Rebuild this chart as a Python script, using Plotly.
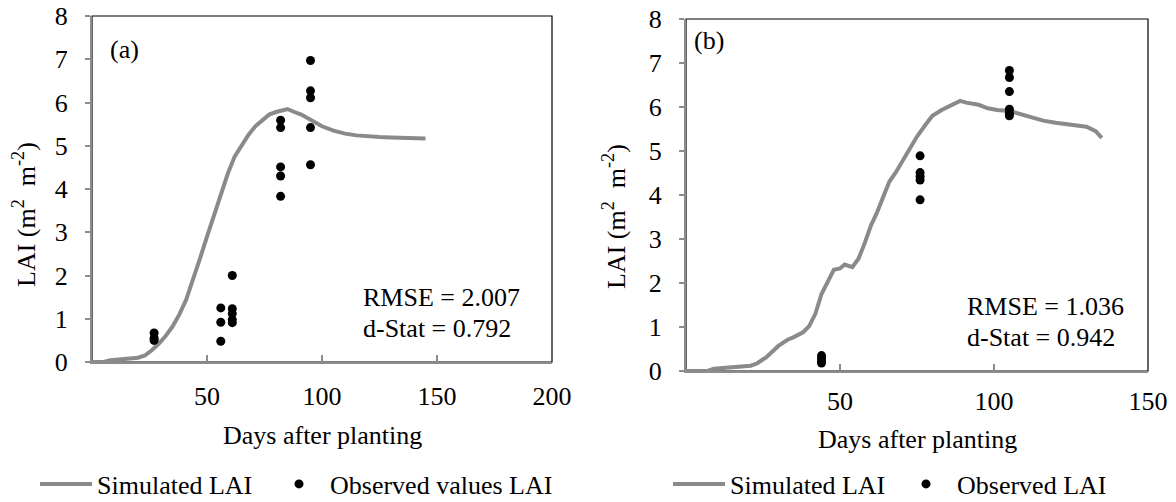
import plotly.graph_objects as go

# ---------------- data ----------------
# Panel (a)
a_sim_days = [0, 5, 8, 12, 16, 20, 23, 26, 29, 32, 35, 38, 41, 44, 47, 50, 53, 56, 59, 62,
              65, 68, 71, 74, 77, 80, 83, 85, 88, 91, 95, 100, 105, 110, 115, 120, 125, 130,
              135, 140, 145]
a_sim_lai = [0, 0, 0.04, 0.06, 0.08, 0.1, 0.15, 0.27, 0.42, 0.6, 0.82, 1.1, 1.45, 1.9, 2.4,
             2.9, 3.4, 3.9, 4.35, 4.75, 5.02, 5.25, 5.45, 5.6, 5.72, 5.78, 5.82, 5.85, 5.78,
             5.72, 5.6, 5.45, 5.35, 5.28, 5.24, 5.21, 5.2, 5.19, 5.18, 5.17, 5.17]
a_obs_days = [27, 27, 27, 56, 56, 56, 61, 61, 61, 61, 61, 82, 82, 82, 82, 82, 95, 95, 95, 95, 95]
a_obs_lai = [0.67, 0.55, 0.5, 1.25, 0.92, 0.48, 2.0, 1.23, 1.12, 0.98, 0.91,
             5.59, 5.42, 4.51, 4.30, 3.83, 6.97, 6.27, 6.11, 5.42, 4.56]

# Panel (b)
b_sim_days = [0, 7, 9, 13, 17, 21, 23, 26, 30, 33, 35, 38, 40, 42, 44, 46, 48, 50, 51.5, 54,
              56, 58, 60, 62, 64, 66, 68, 70, 72, 75, 78, 80, 83, 86, 89, 91, 93, 95, 98,
              101, 105, 110, 116, 120, 124, 130, 133, 135]
b_sim_lai = [0, 0, 0.05, 0.07, 0.09, 0.12, 0.17, 0.31, 0.57, 0.71, 0.77, 0.88, 1.02, 1.3, 1.75,
             2.05, 2.3, 2.33, 2.42, 2.36, 2.55, 2.9, 3.3, 3.6, 3.95, 4.3, 4.5, 4.75, 4.98, 5.33,
             5.62, 5.8, 5.93, 6.03, 6.14, 6.1, 6.08, 6.05, 5.97, 5.93, 5.91, 5.8, 5.69, 5.64,
             5.6, 5.55, 5.45, 5.3]
b_obs_days = [44, 44, 44, 44, 76, 76, 76, 76, 76, 105, 105, 105, 105, 105, 105]
b_obs_lai = [0.35, 0.28, 0.22, 0.18, 4.89, 4.51, 4.42, 4.34, 3.89, 6.83, 6.67, 6.35, 5.95, 5.86, 5.80]

a_xticks = [50, 100, 150, 200]
b_xticks = [50, 100, 150]
y_ticks = [0, 1, 2, 3, 4, 5, 6, 7, 8]

# ---------------- style ----------------
W, H = 1176, 502
FONT = "Liberation Serif"
FS = 26
GRAY = "#8a8a8a"
AXIS_GRAY = "#8c8c8c"


def px_x(p):
    return p / W


def px_y(p):
    return (H - p) / H


fig = go.Figure()

fig.add_trace(go.Scatter(x=a_sim_days, y=a_sim_lai, mode="lines", name="Simulated LAI",
                         line=dict(color=GRAY, width=4), xaxis="x", yaxis="y",
                         legend="legend", legendwidth=166))
fig.add_trace(go.Scatter(x=a_obs_days, y=a_obs_lai, mode="markers", name="Observed values LAI",
                         marker=dict(color="black", size=9), xaxis="x", yaxis="y",
                         legend="legend", cliponaxis=False))
fig.add_trace(go.Scatter(x=b_sim_days, y=b_sim_lai, mode="lines", name="Simulated LAI",
                         line=dict(color=GRAY, width=4), xaxis="x2", yaxis="y2",
                         legend="legend2", legendwidth=160))
fig.add_trace(go.Scatter(x=b_obs_days, y=b_obs_lai, mode="markers", name="Observed LAI",
                         marker=dict(color="black", size=9), xaxis="x2", yaxis="y2",
                         legend="legend2", cliponaxis=False))

tickfont = dict(family=FONT, size=FS, color="black")


def xaxis_cfg(domain, rng, ticks, anchor, standoff):
    return dict(domain=domain, range=rng, tickvals=ticks, anchor=anchor,
                showline=True, linecolor=AXIS_GRAY, linewidth=2, mirror=False,
                showgrid=False, zeroline=False, ticks="inside", ticklen=7, tickwidth=1.5,
                tickcolor=AXIS_GRAY, tickfont=tickfont, ticklabelstandoff=standoff,
                automargin=False, fixedrange=True)


def yaxis_cfg(domain, anchor):
    return dict(domain=domain, range=[0, 8], tickvals=y_ticks, anchor=anchor,
                showline=True, linecolor=AXIS_GRAY, linewidth=2, mirror=False,
                showgrid=False, zeroline=False, ticks="outside", ticklen=5, tickwidth=1.5,
                tickcolor=AXIS_GRAY, tickfont=tickfont, ticklabelstandoff=12,
                automargin=False, fixedrange=True)


legend_common = dict(orientation="h", xanchor="left", yanchor="middle",
                     font=dict(family=FONT, size=FS, color="black"),
                     bgcolor="rgba(0,0,0,0)", itemwidth=52,
                     itemclick=False, itemdoubleclick=False)

fig.update_layout(
    width=W, height=H,
    margin=dict(l=0, r=0, t=0, b=0, autoexpand=False),
    paper_bgcolor="white", plot_bgcolor="white",
    font=dict(family=FONT, size=FS, color="black"),
    xaxis=xaxis_cfg([px_x(92), px_x(552)], [0, 200], a_xticks, "y", 10),
    yaxis=yaxis_cfg([px_y(362), px_y(16)], "x"),
    xaxis2=xaxis_cfg([px_x(686), px_x(1148)], [0, 150], b_xticks, "y2", 6),
    yaxis2=yaxis_cfg([px_y(371), px_y(19)], "x2"),
    legend=dict(x=px_x(35), y=px_y(484), **legend_common),
    legend2=dict(x=px_x(668), y=px_y(484), **legend_common),
    shapes=[
        dict(type="rect", xref="x domain", yref="y domain", x0=0, x1=1, y0=0, y1=1,
             line=dict(color="black", width=1.2), layer="below"),
        dict(type="rect", xref="x2 domain", yref="y2 domain", x0=0, x1=1, y0=0, y1=1,
             line=dict(color="black", width=1.2), layer="below"),
    ],
)

annots = [
    # panel labels
    dict(x=7, y=7.23, xref="x", yref="y", text="(a)", xanchor="left", yanchor="middle"),
    dict(x=2, y=7.52, xref="x2", yref="y2", text="(b)", xanchor="left", yanchor="middle"),
    # statistics
    dict(x=117, y=1.48, xref="x", yref="y", text="RMSE = 2.007", xanchor="left", yanchor="middle"),
    dict(x=117, y=0.78, xref="x", yref="y", text="d-Stat = 0.792", xanchor="left", yanchor="middle"),
    dict(x=90.6, y=1.46, xref="x2", yref="y2", text="RMSE = 1.036", xanchor="left", yanchor="middle"),
    dict(x=90.6, y=0.77, xref="x2", yref="y2", text="d-Stat = 0.942", xanchor="left", yanchor="middle"),
    # axis titles
    dict(x=px_x(322), y=px_y(435), xref="paper", yref="paper", text="Days after planting",
         xanchor="center", yanchor="middle"),
    dict(x=px_x(917), y=px_y(439), xref="paper", yref="paper", text="Days after planting",
         xanchor="center", yanchor="middle"),
    dict(x=px_x(25), y=px_y(215), xref="paper", yref="paper",
         text="LAI (m<sup>2</sup>&nbsp; m<sup>-2</sup>)", textangle=-90,
         xanchor="center", yanchor="middle"),
    dict(x=px_x(615), y=px_y(217), xref="paper", yref="paper",
         text="LAI (m<sup>2</sup>&nbsp; m<sup>-2</sup>)", textangle=-90,
         xanchor="center", yanchor="middle"),
]
for a in annots:
    a.update(showarrow=False, font=dict(family=FONT, size=FS, color="black"))
fig.update_layout(annotations=annots)

fig.write_html("out.html", config=dict(displayModeBar=False))
